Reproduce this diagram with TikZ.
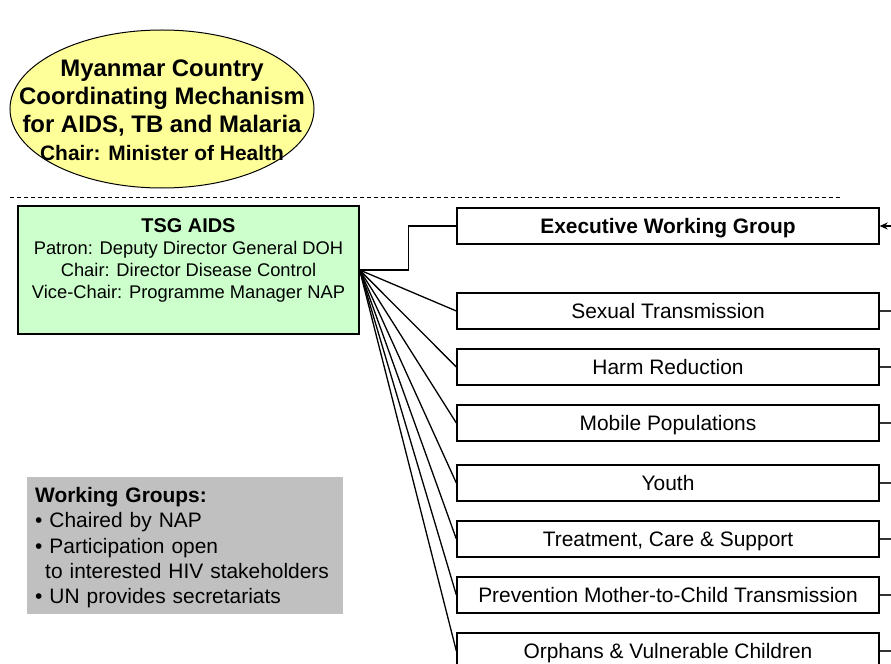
\documentclass[tikz,border=0pt]{standalone}
\usepackage{fontspec}
\setmainfont{Liberation Sans}
\usetikzlibrary{shapes.geometric,arrows.meta}
\definecolor{ccmyellow}{RGB}{255,255,153}
\definecolor{tsggreen}{RGB}{204,255,204}
\definecolor{notegray}{RGB}{192,192,192}
\tikzset{
  wgbox/.style={draw=black, line width=1.3bp, fill=white, minimum width=422bp, minimum height=36bp, inner sep=0pt, text height=17bp, text depth=2bp, font=\fontsize{21}{24}\selectfont},
  conn/.style={draw=black, line width=1.3bp},
  sideconn/.style={draw=black!80, line width=1.2bp},
}
\begin{document}
\begin{tikzpicture}[x=1bp,y=-1bp]
\useasboundingbox (0,0) rectangle (891,664);
\clip (0,0) rectangle (891,664);

% CCM ellipse
\node[ellipse, draw=black, line width=1bp, fill=ccmyellow, minimum width=304bp, minimum height=158bp, inner sep=0pt] (ccm) at (162,109) {};
\node[align=center, inner sep=0pt, font=\fontsize{24}{28}\selectfont\bfseries] (ccmtext) at (162,110)
 {Myanmar Country\\Coordinating Mechanism\\for AIDS, TB and Malaria\\{\fontsize{21}{28}\selectfont Chair: Minister of Health}};

% dashed separator
\coordinate (dashL) at (10,197);
\coordinate (dashR) at (840,197);
\draw[black, line width=0.8bp, dash pattern=on 4bp off 3bp] (dashL) -- (dashR);

% TSG box
\node[draw=black, line width=1.3bp, fill=tsggreen, minimum width=341bp, minimum height=128bp, inner sep=0pt] (tsg) at (188.5,270) {};
\node[anchor=north, align=center, inner sep=0pt, font=\fontsize{18.4}{22}\selectfont] (tsgtext) at (188.5,218.5)
 {{\fontsize{20}{22}\selectfont\bfseries TSG AIDS}\\Patron: Deputy Director General DOH\\Chair: Director Disease Control\\Vice-Chair: Programme Manager NAP};

% working group boxes
\node[wgbox, font=\fontsize{21}{24}\selectfont\bfseries] (ewg) at (668,226) {Executive Working Group};
\node[wgbox] (sex) at (668,311) {Sexual Transmission};
\node[wgbox] (harm) at (668,367) {Harm Reduction};
\node[wgbox] (mob) at (668,423) {Mobile Populations};
\node[wgbox] (youth) at (668,483) {Youth};
\node[wgbox] (tcs) at (668,539) {Treatment, Care \& Support};
\node[wgbox] (pmtct) at (668,595) {Prevention Mother-to-Child Transmission};
\node[wgbox] (ovc) at (668,651) {Orphans \& Vulnerable Children};

% connectors from TSG
\draw[conn] (tsg.east) -- ++(49,0) |- (ewg.west);
\foreach \b in {sex,harm,mob,youth,tcs,pmtct,ovc}{
  \draw[conn] (tsg.east) -- (\b.west);
}

% right-side stubs
\coordinate (rewg) at (891,226);
\draw[draw=black, line width=1.2bp, -{Stealth[length=8bp,width=7bp]}] (rewg) -- (ewg.east);
\foreach \b/\y in {sex/311,harm/367,mob/423,youth/483,tcs/539,pmtct/595,ovc/651}{
  \coordinate (r\b) at (891,\y);
  \draw[sideconn] (\b.east) -- (r\b);
}

% note box
\node[fill=notegray, anchor=north west, minimum width=316bp, minimum height=137bp, text width=300bp, inner xsep=8bp, inner ysep=0pt, align=left, font=\fontsize{21}{25.5}\selectfont] (note) at (27,477)
 {\rule{0pt}{19bp}{\bfseries Working Groups:}\\
 • Chaired by NAP\\
 • Participation open\\
 \hspace*{10bp}to interested HIV stakeholders\\
 • UN provides secretariats};
\end{tikzpicture}
\end{document}
